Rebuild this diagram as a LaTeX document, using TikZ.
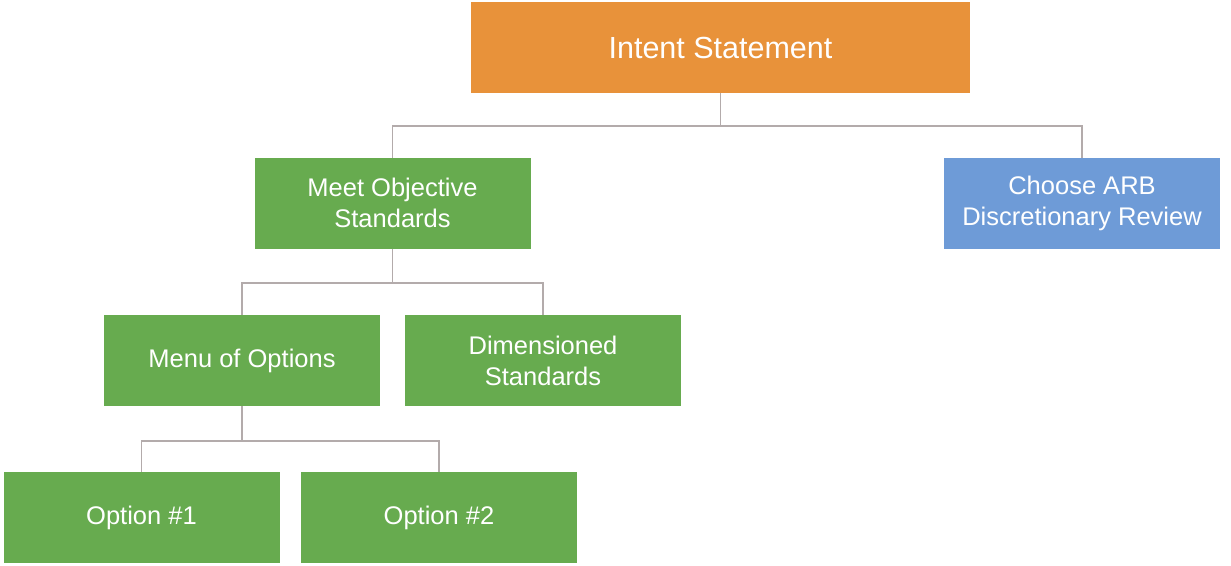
\documentclass[tikz,border=0pt]{standalone}
\usepackage{fontspec}
\setmainfont{Liberation Sans}
\usetikzlibrary{calc}
\definecolor{orangebox}{HTML}{E8923A}
\definecolor{greenbox}{HTML}{67AB4F}
\definecolor{bluebox}{HTML}{6E9BD7}
\definecolor{linegray}{HTML}{B3ABAB}
\begin{document}
\begin{tikzpicture}[x=1pt,y=-1pt,
  box/.style={inner sep=0pt, outer sep=0pt, minimum width=276pt, minimum height=91pt,
    text=white, align=center, font=\fontsize{25.5}{31}\selectfont},
  link/.style={draw=linegray, line width=1.6pt}]
\useasboundingbox (0,0) rectangle (1231,565);
\node[box, fill=orangebox, minimum width=499pt, font=\fontsize{30.5}{36}\selectfont] (intent) at (720.5,47.5) {Intent Statement};
\node[box, fill=greenbox] (meet) at (392.5,203) {Meet Objective\\Standards};
\node[box, fill=bluebox] (arb) at (1082,203) {Choose ARB\\Discretionary Review};
\node[box, fill=greenbox] (menu) at (242,360.5) {Menu of Options};
\node[box, fill=greenbox] (dim) at (543,360.5) {Dimensioned\\Standards};
\node[box, fill=greenbox] (opt1) at (141.5,517.5) {Option \#1};
\node[box, fill=greenbox] (opt2) at (439,517.5) {Option \#2};
\coordinate (j1) at (720.5,126);
\coordinate (j2) at (392.5,283);
\coordinate (j3) at (242,441);
\draw[link] (intent.south) -- (j1) -| (meet.north);
\draw[link] (j1) -| (arb.north);
\draw[link] (meet.south) -- (j2) -| (menu.north);
\draw[link] (j2) -| (dim.north);
\draw[link] (menu.south) -- (j3) -| (opt1.north);
\draw[link] (j3) -| (opt2.north);
\end{tikzpicture}
\end{document}
